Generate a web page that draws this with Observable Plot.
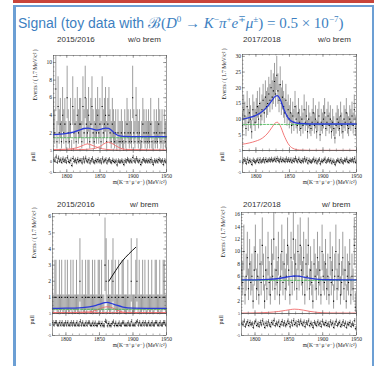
<!DOCTYPE html>
<html><head><meta charset="utf-8">
<script src="https://cdn.jsdelivr.net/npm/d3@7"></script>
<script src="https://cdn.jsdelivr.net/npm/@observablehq/plot@0.6"></script>
<style>
body{margin:0;background:#fff;}
#slide{position:relative;width:381px;height:366px;overflow:hidden;background:#fff;font-family:"Liberation Sans",Arial,sans-serif;}
#redbar{position:absolute;left:13px;top:0;width:361px;height:3px;background:#c8443a;}
#box{position:absolute;left:13px;top:5px;width:361px;height:380px;border:2px solid #6c9fd4;border-left-width:3px;box-sizing:border-box;}
#title{position:absolute;left:18px;top:11px;font-size:14px;line-height:16px;color:#3d7fc1;white-space:nowrap;}
.math{font-family:"Liberation Serif","DejaVu Serif",serif;font-size:15px;}
.hdr{position:absolute;font-size:8px;line-height:10px;color:#333;white-space:nowrap;}
.pl{position:absolute;}
</style></head>
<body>
<div id="slide">
  <div id="redbar"></div>
  <div id="box"></div>
  <div id="title">Signal (toy data with <span class="math">ℬ(<i>D</i><sup style="font-size:9px">0</sup> → <i>K</i><sup style="font-size:9px">−</sup><i>π</i><sup style="font-size:9px">+</sup><i>e</i><sup style="font-size:9px">∓</sup><i>μ</i><sup style="font-size:9px">±</sup>) = 0.5 × 10<sup style="font-size:9px">−7</sup>)</span></div>
</div>
<script>
// ---------------- data ----------------
const massMin = 1780, massMax = 1950, binWidth = 1.7;
const massTicks = [1800, 1850, 1900, 1950];
const xTitle = "m(K⁻π⁺μ⁺e⁻) (MeV/c²)";
const yTitle = "Events / ( 1.7 MeV/c² )";

// Poisson (Garwood 68%) interval per observed count
const poisLo = [0,0.173,0.708,1.367,2.086,2.840,3.620,4.419,5.232,6.057,6.891,7.73,8.58,9.44,10.30,11.17,12.04,12.92,13.80,14.68,15.57,16.45,17.35,18.24,19.14,20.03];
const poisHi = [1.148,3.300,4.638,5.918,7.163,8.382,9.584,10.77,11.95,13.11,14.27,15.42,16.56,17.70,18.83,19.96,21.08,22.20,23.32,24.44,25.55,26.66,27.76,28.87,29.97,31.07];

const counts_1516_noBrem = [3,2,7,1,5,2,3,1,4,2,3,1, 6,2,1,3,0,5,2,3,1,4,2,3, 3,1,5,2,6,3,2,4,1,3,5,2, 1,3,2,4,2,3,1,5,2,3,4,1, 3,4,2,1,3,2,1,2,0,2,1,1, 2,1,0,2,1,3,2,1,2,1,6,2, 1,4,2,1,2,0,1,3,2,1,2,1, 2,1,3,1,0,2,1,2,1,3,2,1,2,0,2,1];
const counts_1718_noBrem = [8,13,11,7,14,9,12,10,6,13,11,9, 12,14,10,15,11,13,16,12,17,14,15,18, 16,20,17,19,22,18,24,19,16,21,15,17, 14,12,16,11,13,10,12,8,11,9,14,10, 8,12,9,7,10,8,13,9,11,6,10,8, 7,9,12,8,10,6,9,11,5,9,8,10, 12,7,9,11,8,10,6,9,7,4,8,10, 9,7,11,8,6,10,9,12,8,7,10,9,11,8,13,7];
const counts_1516_brem = [1,0,1,1,0,0,1,0,1,0,0,1, 0,1,0,0,1,0,1,0,0,1,0,0, 2,0,1,0,0,1,0,1,1,0,0,1, 0,1,0,0,1,1,0,1,0,0,3,2, 0,1,0,0,1,2,0,1,0,0,1,0, 0,1,1,0,0,0,1,0,0,2,0,0, 0,1,2,0,1,0,0,1,0,1,0,0, 1,0,0,1,0,0,1,1,0,0,1,0,0,1,1,0];
const counts_1718_brem = [7,5,10,3,6,9,4,8,5,6,2,7, 10,4,6,3,8,5,11,6,2,7,4,9, 5,3,8,6,12,4,7,5,9,3,6,10, 5,8,4,6,11,7,3,9,5,12,6,8, 4,10,6,11,7,5,9,3,8,6,11,4, 7,5,2,8,6,4,9,5,7,3,10,6, 5,8,4,6,3,9,5,7,2,6,10,4, 6,8,3,5,9,4,7,2,6,5,8,3,6,4,11,1];

// fit curves (knots)
const totX_1516_noBrem = [1780,1790,1800,1810,1820,1826,1832,1838,1845,1852,1858,1863,1868,1873,1878,1885,1900,1920,1950];
const totY_1516_noBrem = [1.8,1.85,1.95,2.1,2.35,2.5,2.55,2.45,2.32,2.42,2.55,2.52,2.25,1.9,1.68,1.6,1.58,1.57,1.57];
const bkgX_1516_noBrem = [1780,1950], bkgY_1516_noBrem = [1.45,1.45];
const sigAX_1516_noBrem = [1780,1800,1815,1825,1831,1838,1848,1860,1880,1950];
const sigAY_1516_noBrem = [0.1,0.15,0.3,0.6,0.75,0.6,0.3,0.12,0.05,0.03];
const sigBX_1516_noBrem = [1780,1820,1840,1852,1858,1863,1868,1878,1890,1950];
const sigBY_1516_noBrem = [0.05,0.1,0.2,0.55,0.85,0.95,0.8,0.35,0.12,0.05];

const totX_1718_noBrem = [1780,1790,1800,1810,1818,1824,1829,1832,1836,1842,1848,1855,1865,1880,1950];
const totY_1718_noBrem = [10,10.5,11.2,12.5,14.2,16,17.3,17.5,16.4,13,10.4,9.1,8.6,8.45,8.45];
const bkgX_1718_noBrem = [1780,1950], bkgY_1718_noBrem = [8.3,8.3];
const sigX_1718_noBrem = [1780,1790,1800,1810,1818,1824,1829,1832,1836,1842,1848,1855,1865,1880,1950];
const sigY_1718_noBrem = [2,2.4,3,4,5.6,7.4,8.8,9,8,4.8,2.2,0.7,0.15,0.05,0.05];

const totX_1516_brem = [1780,1800,1820,1835,1845,1852,1858,1862,1868,1875,1885,1900,1920,1950];
const totY_1516_brem = [0.32,0.33,0.35,0.41,0.5,0.6,0.68,0.69,0.62,0.52,0.4,0.33,0.32,0.32];
const bkgX_1516_brem = [1780,1950], bkgY_1516_brem = [0.26,0.26];
const sigX_1516_brem = [1780,1835,1845,1852,1858,1862,1866,1872,1880,1890,1950];
const sigY_1516_brem = [0.03,0.1,0.2,0.32,0.4,0.42,0.4,0.3,0.15,0.06,0.03];
const flatX_1516_brem = [1780,1950], flatY_1516_brem = [0.06,0.06];
const noteX_1516_brem = [1864,1874,1884,1894,1904];
const noteY_1516_brem = [2.0,2.65,3.25,3.7,4.1];

const totX_1718_brem = [1780,1800,1820,1835,1845,1852,1858,1864,1872,1880,1890,1910,1950];
const totY_1718_brem = [5.42,5.43,5.5,5.65,5.85,5.98,6.05,6.02,5.88,5.7,5.55,5.45,5.42];
const bkgX_1718_brem = [1780,1950], bkgY_1718_brem = [5.35,5.35];
const sigX_1718_brem = [1780,1800,1820,1835,1845,1852,1858,1864,1872,1880,1890,1910,1950];
const sigY_1718_brem = [0.07,0.1,0.18,0.33,0.5,0.63,0.7,0.67,0.53,0.36,0.2,0.09,0.07];

// ---------------- layout ----------------
const zip = (xs, ys) => xs.map((x, i) => ({x, y: ys[i]}));
const panels = [
  {year:"2015/2016", brem:"w/o brem", yearX:57, bremX:128, hdrTop:35, frameL:53, frameR:166, mainTop:55, mainBot:150, pullBot:172,
   ymax:10.8, yTicks:[2,4,6,8,10], yStep:2, counts:counts_1516_noBrem, tot:zip(totX_1516_noBrem,totY_1516_noBrem),
   bkg:zip(bkgX_1516_noBrem,bkgY_1516_noBrem), sig:[zip(sigAX_1516_noBrem,sigAY_1516_noBrem), zip(sigBX_1516_noBrem,sigBY_1516_noBrem)]},
  {year:"2017/2018", brem:"w/o brem", yearX:243, bremX:318, hdrTop:35, frameL:242, frameR:356, mainTop:54, mainBot:150, pullBot:172,
   ymax:30.6, yTicks:[5,10,15,20,25,30], yStep:5, counts:counts_1718_noBrem, tot:zip(totX_1718_noBrem,totY_1718_noBrem),
   bkg:zip(bkgX_1718_noBrem,bkgY_1718_noBrem), sig:[zip(sigX_1718_noBrem,sigY_1718_noBrem)]},
  {year:"2015/2016", brem:"w/ brem", yearX:57, bremX:130, hdrTop:200, frameL:52, frameR:166, mainTop:213, mainBot:313, pullBot:335,
   ymax:6.2, yTicks:[1,2,3,4,5,6], yStep:1, counts:counts_1516_brem, tot:zip(totX_1516_brem,totY_1516_brem),
   bkg:zip(bkgX_1516_brem,bkgY_1516_brem), sig:[zip(sigX_1516_brem,sigY_1516_brem), zip(flatX_1516_brem,flatY_1516_brem)],
   note:zip(noteX_1516_brem,noteY_1516_brem)},
  {year:"2017/2018", brem:"w/ brem", yearX:243, bremX:322, hdrTop:200, frameL:241, frameR:356, mainTop:212, mainBot:313, pullBot:335,
   ymax:16.3, yTicks:[2,4,6,8,10,12,14,16], yStep:2, counts:counts_1718_brem, tot:zip(totX_1718_brem,totY_1718_brem),
   bkg:zip(bkgX_1718_brem,bkgY_1718_brem), sig:[zip(sigX_1718_brem,sigY_1718_brem)]}
];

const slide = document.getElementById("slide");
const mL = 33, mR = 6;
const frameColor = "#5a5a5a";
const fontStyle = {background:"transparent", overflow:"visible", fontFamily:"'Liberation Serif','DejaVu Serif',serif", fontSize:"5.5px", color:"#222"};
const minorX = d3.range(massMin, massMax + 1, 10);

function binsOf(p) {
  const f = d3.scaleLinear().domain(p.tot.map(d => d.x)).range(p.tot.map(d => d.y));
  return p.counts.map((n, i) => {
    const x1 = massMin + i * binWidth, x2 = x1 + binWidth, xc = x1 + binWidth / 2;
    const lo = poisLo[n], hi = poisHi[n], m = f(xc);
    const pull = n >= m ? (n - m) / Math.max(n - lo, 1e-6) : (n - m) / (hi - n);
    return {x1, x2, xc, n, lo, hi, pull};
  });
}

function place(svg, left, top) {
  svg.classList.add("pl");
  svg.style.left = left + "px";
  svg.style.top = top + "px";
  slide.appendChild(svg);
}

function frameTicks(W, H, xs, ys, len) {
  return [
    Plot.tickX(xs, {x: d => d, insetTop: H - len, stroke: frameColor, strokeWidth: 0.5}),
    Plot.tickX(xs, {x: d => d, insetBottom: H - len, stroke: frameColor, strokeWidth: 0.5}),
    Plot.tickY(ys, {y: d => d, insetRight: W - len, stroke: frameColor, strokeWidth: 0.5}),
    Plot.tickY(ys, {y: d => d, insetLeft: W - len, stroke: frameColor, strokeWidth: 0.5})
  ];
}

for (const p of panels) {
  const W = p.frameR - p.frameL;
  const bins = binsOf(p);

  for (const [txt, x] of [[p.year, p.yearX], [p.brem, p.bremX]]) {
    const d = document.createElement("div");
    d.className = "hdr"; d.textContent = txt;
    d.style.left = x + "px"; d.style.top = p.hdrTop + "px";
    slide.appendChild(d);
  }

  const H = p.mainBot - p.mainTop, mT = 8, mB = 1;
  const yMinor = d3.range(0, p.ymax, p.yStep / 4);
  const main = Plot.plot({
    width: W + mL + mR, height: H + mT + mB,
    marginLeft: mL, marginRight: mR, marginTop: mT, marginBottom: mB,
    x: {domain: [massMin, massMax], axis: null},
    y: {domain: [0, p.ymax], axis: null},
    style: fontStyle,
    marks: [
      Plot.rect(bins, {x1: d => d.xc - 0.42 * binWidth, x2: d => d.xc + 0.42 * binWidth, y1: "lo", y2: d => Math.min(d.hi, p.ymax), fill: "#6a6a6a", fillOpacity: 0.68}),
      Plot.ruleY(bins, {y: "n", x1: "x1", x2: "x2", stroke: "#000", strokeWidth: 1.1}),
      ...p.sig.map(s => Plot.line(s, {x: "x", y: "y", stroke: "#f06a6a", strokeWidth: 0.9, curve: "monotone-x"})),
      Plot.line(p.bkg, {x: "x", y: "y", stroke: "#3cb44b", strokeWidth: 0.8, strokeDasharray: "2,1.5"}),
      Plot.line(p.tot, {x: "x", y: "y", stroke: "#2a3ad8", strokeWidth: 1.3, curve: "monotone-x"}),
      ...(p.note ? [Plot.line(p.note, {x: "x", y: "y", stroke: "#111", strokeWidth: 1, curve: "monotone-x"})] : []),
      Plot.frame({stroke: frameColor, strokeWidth: 0.6}),
      ...frameTicks(W, H, massTicks, p.yTicks, 3),
      ...frameTicks(W, H, minorX, yMinor, 1.5),
      Plot.axisY({ticks: p.yTicks, tickSize: 0, tickPadding: 1.5, label: null, tickFormat: d => String(d)}),
      Plot.text([yTitle], {text: d => d, frameAnchor: "top-left", rotate: -90, textAnchor: "end", dx: -20, dy: -6, fontSize: 5.5})
    ]
  });
  place(main, p.frameL - mL, p.mainTop - mT);

  const PH = p.pullBot - p.mainBot, pT = 1, pB = 16;
  const pull = Plot.plot({
    width: W + mL + mR, height: PH + pT + pB,
    marginLeft: mL, marginRight: mR, marginTop: pT, marginBottom: pB,
    x: {domain: [massMin, massMax]},
    y: {domain: [-5, 5]},
    style: fontStyle,
    marks: [
      Plot.ruleX(bins, {x: "xc", y1: d => d.pull - 1, y2: d => d.pull + 1, stroke: "#000", strokeWidth: 0.5}),
      Plot.ruleY(bins, {y: "pull", x1: "x1", x2: "x2", stroke: "#000", strokeWidth: 1}),
      Plot.frame({stroke: frameColor, strokeWidth: 0.6}),
      ...frameTicks(W, PH, massTicks, [-5, 0, 5], 3),
      ...frameTicks(W, PH, minorX, [], 1.5),
      Plot.axisX({ticks: massTicks, tickSize: 0, tickPadding: 1.5, label: null, fontSize: 5.5, tickFormat: d => String(d)}),
      Plot.axisY({ticks: [-5, 0, 5], tickSize: 0, tickPadding: 1.5, label: null, fontSize: 4, tickFormat: d => String(d)}),
      Plot.text(["pull"], {text: d => d, frameAnchor: "left", rotate: -90, dx: -20, fontSize: 6}),
      Plot.text([xTitle], {text: d => d, frameAnchor: "bottom-right", textAnchor: "end", dy: 11, fontSize: 5.5})
    ]
  });
  place(pull, p.frameL - mL, p.mainBot - pT);
}
</script>
</body></html>
